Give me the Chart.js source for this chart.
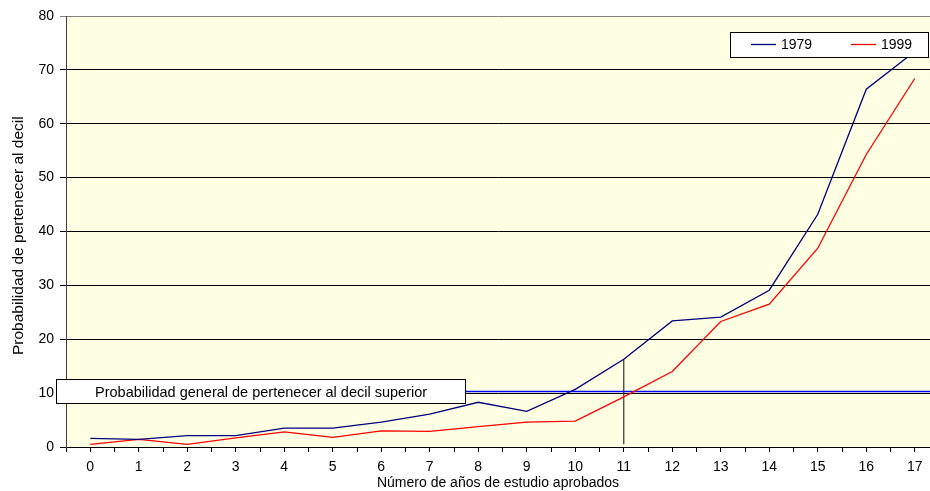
<!DOCTYPE html>
<html lang="es">
<head>
<meta charset="UTF-8">
<title>Probabilidad de pertenecer al decil superior</title>
<script src="https://cdn.jsdelivr.net/npm/chart.js@4"></script>
<style>
  html, body { margin: 0; padding: 0; background: #fff; overflow: hidden; }
  #wrap { position: relative; width: 930px; height: 491px; }
</style>
</head>
<body>
<div id="wrap"><canvas id="grafico" width="930" height="491"></canvas></div>
<script>
// datos
const anios = [0, 1, 2, 3, 4, 5, 6, 7, 8, 9, 10, 11, 12, 13, 14, 15, 16, 17];
const serie1979 = [1.6, 1.4, 2.1, 2.1, 3.5, 3.5, 4.6, 6.1, 8.3, 6.6, 10.7, 16.3, 23.4, 24.1, 29.1, 43.2, 66.4, 73.4];
const serie1999 = [0.5, 1.4, 0.5, 1.7, 2.8, 1.8, 3.0, 2.9, 3.8, 4.6, 4.8, 9.3, 14.0, 23.3, 26.5, 36.9, 54.3, 68.4];
const nombresSeries = ['1979', '1999'];
const yTicks = [0, 10, 20, 30, 40, 50, 60, 70, 80];

const probGeneral = 10.3;   // linea horizontal
const anioMarca = 11;       // linea vertical
const textoGeneral = 'Probabilidad general de pertenecer al decil superior';
const tituloX = 'Número de años de estudio aprobados';
const tituloY = 'Probabilidad de pertenecer al decil superior';

const FUENTE = "'Liberation Sans', Arial, sans-serif";
const COLORES = ['#000080', '#FF0000'];

const aPuntos = (serie) => anios.map((x, i) => ({ x: x, y: serie[i] }));

// fondo amarillo del area de trazado
const fondoPlugin = {
  id: 'fondo',
  beforeDraw(chart) {
    const { ctx, chartArea: a } = chart;
    ctx.save();
    ctx.fillStyle = '#FFFFE3';
    ctx.fillRect(a.left, a.top, a.right - a.left, a.bottom - a.top);
    ctx.restore();
  }
};

// leyenda y recuadro de texto encima de las lineas
const cajasPlugin = {
  id: 'cajas',
  afterDatasetsDraw(chart) {
    const ctx = chart.ctx;
    const y = chart.scales.y;
    ctx.save();
    ctx.font = '14px ' + FUENTE;
    ctx.textBaseline = 'middle';
    ctx.lineWidth = 1;

    // leyenda
    ctx.fillStyle = '#fff';
    ctx.strokeStyle = '#000';
    ctx.fillRect(730.5, 32.5, 198, 25);
    ctx.strokeRect(730.5, 32.5, 198, 25);
    nombresSeries.forEach((n, i) => {
      const x0 = 751 + i * 100;
      ctx.strokeStyle = COLORES[i];
      ctx.lineWidth = 1.3;
      ctx.beginPath();
      ctx.moveTo(x0, 44.5);
      ctx.lineTo(x0 + 25, 44.5);
      ctx.stroke();
      ctx.fillStyle = '#000';
      ctx.textAlign = 'left';
      ctx.fillText(n, x0 + 30, 45);
    });

    // recuadro probabilidad general
    const yc = y.getPixelForValue(probGeneral);
    ctx.fillStyle = '#fff';
    ctx.strokeStyle = '#000';
    ctx.lineWidth = 1;
    ctx.fillRect(56.5, Math.round(yc) - 12.5, 409, 24);
    ctx.strokeRect(56.5, Math.round(yc) - 12.5, 409, 24);
    ctx.fillStyle = '#000';
    ctx.textAlign = 'left';
    ctx.font = '14.5px ' + FUENTE;
    ctx.fillText(textoGeneral, 95, Math.round(yc) + 0.5);
    ctx.restore();
  },
  afterDraw(chart) {
    // titulo del eje y, recortado arriba como en el original
    const ctx = chart.ctx;
    ctx.save();
    ctx.beginPath();
    ctx.rect(0, 114, 60, 400);
    ctx.clip();
    ctx.translate(19, 355);
    ctx.rotate(-Math.PI / 2);
    ctx.font = '15.5px ' + FUENTE;
    ctx.fillStyle = '#000';
    ctx.textAlign = 'left';
    ctx.textBaseline = 'middle';
    ctx.fillText(tituloY, 0, 0);
    ctx.restore();
  }
};

const ctx = document.getElementById('grafico').getContext('2d');
const grafico = new Chart(ctx, {
  type: 'line',
  data: {
    datasets: [
      { label: nombresSeries[0], data: aPuntos(serie1979), borderColor: COLORES[0], borderWidth: 1.3, pointRadius: 0, tension: 0 },
      { label: nombresSeries[1], data: aPuntos(serie1999), borderColor: COLORES[1], borderWidth: 1.3, pointRadius: 0, tension: 0 },
      { label: 'general', data: [{ x: -0.5, y: probGeneral }, { x: 17.5, y: probGeneral }], borderColor: '#0000FF', borderWidth: 1.3, pointRadius: 0 },
      { label: 'marca', data: [{ x: anioMarca, y: 0.5 }, { x: anioMarca, y: serie1979[anioMarca] }], borderColor: '#333', borderWidth: 1.2, pointRadius: 0 }
    ]
  },
  options: {
    responsive: false,
    animation: false,
    devicePixelRatio: 1,
    layout: { padding: { top: 16, right: 0, left: 0, bottom: 0 } },
    plugins: { legend: { display: false }, tooltip: { enabled: false } },
    scales: {
      x: {
        type: 'linear',
        min: -0.5,
        max: 17.314,
        afterBuildTicks(axis) {
          const t = [];
          for (let v = -0.5; v <= 17; v += 0.5) t.push({ value: v });
          axis.ticks = t;
        },
        afterFit(axis) { axis.height = 44; },
        grid: { drawOnChartArea: false, color: '#000', tickLength: 5 },
        border: { color: '#000', width: 1 },
        ticks: {
          autoSkip: false,
          maxRotation: 0,
          padding: 7,
          color: '#000',
          font: { family: FUENTE, size: 14 },
          callback: (v) => Number.isInteger(v) ? String(v) : ''
        },
        title: { display: true, text: tituloX, color: '#000', font: { family: FUENTE, size: 14 }, padding: { top: 0, bottom: -1 } }
      },
      y: {
        min: 0,
        max: 80,
        afterBuildTicks(axis) { axis.ticks = yTicks.map(v => ({ value: v })); },
        afterFit(axis) { axis.width = 66; },
        grid: {
          color: (c) => c.tick && c.tick.value === 80 ? '#808080' : '#000',
          tickLength: 6
        },
        border: { color: '#404040', width: 1 },
        ticks: { padding: 6, color: '#000', font: { family: FUENTE, size: 14 } }
      }
    }
  },
  plugins: [fondoPlugin, cajasPlugin]
});
</script>
</body>
</html>
